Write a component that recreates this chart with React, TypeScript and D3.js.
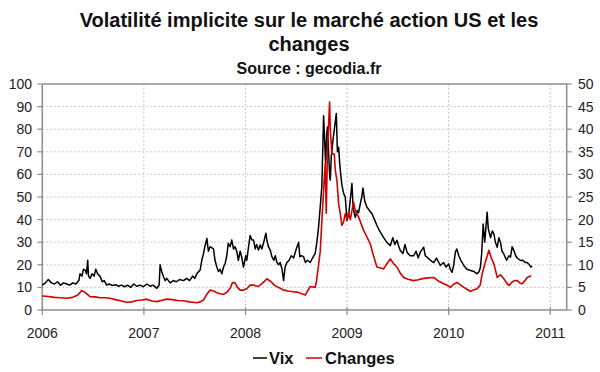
import React from "react";
import * as d3 from "d3";

// Vix (axe de gauche)
const vixYears = [
  2006.0, 2006.03, 2006.059, 2006.09, 2006.12, 2006.15, 2006.18, 2006.21, 2006.24, 2006.27,
  2006.3, 2006.33, 2006.36, 2006.371, 2006.39, 2006.405, 2006.421, 2006.435, 2006.447, 2006.455,
  2006.47, 2006.49, 2006.51, 2006.526, 2006.545, 2006.568, 2006.59, 2006.61, 2006.634, 2006.66,
  2006.69, 2006.72, 2006.75, 2006.78, 2006.81, 2006.84, 2006.87, 2006.9, 2006.93, 2006.96,
  2006.995, 2007.03, 2007.06, 2007.09, 2007.127, 2007.15, 2007.16, 2007.175, 2007.193, 2007.21,
  2007.225, 2007.258, 2007.29, 2007.32, 2007.35, 2007.39, 2007.42, 2007.45, 2007.48, 2007.5,
  2007.521, 2007.554, 2007.57, 2007.587, 2007.6, 2007.62, 2007.635, 2007.652, 2007.685, 2007.7,
  2007.718, 2007.734, 2007.75, 2007.767, 2007.784, 2007.8, 2007.816, 2007.83, 2007.849, 2007.865,
  2007.882, 2007.898, 2007.915, 2007.93, 2007.948, 2007.965, 2007.98, 2008.003, 2008.013, 2008.03,
  2008.046, 2008.063, 2008.079, 2008.096, 2008.11, 2008.128, 2008.145, 2008.161, 2008.18, 2008.201,
  2008.21, 2008.226, 2008.244, 2008.26, 2008.28, 2008.293, 2008.31, 2008.325, 2008.342, 2008.36,
  2008.375, 2008.39, 2008.408, 2008.43, 2008.45, 2008.474, 2008.5, 2008.523, 2008.535, 2008.55,
  2008.572, 2008.59, 2008.61, 2008.637, 2008.66, 2008.686, 2008.703, 2008.72, 2008.736, 2008.752,
  2008.769, 2008.789, 2008.8, 2008.808, 2008.818, 2008.828, 2008.835, 2008.845, 2008.861, 2008.875,
  2008.894, 2008.905, 2008.917, 2008.927, 2008.94, 2008.95, 2008.966, 2008.982, 2008.999, 2009.015,
  2009.031, 2009.048, 2009.06, 2009.081, 2009.1, 2009.113, 2009.13, 2009.145, 2009.156, 2009.175,
  2009.196, 2009.22, 2009.245, 2009.27, 2009.294, 2009.32, 2009.36, 2009.39, 2009.426, 2009.45,
  2009.47, 2009.491, 2009.51, 2009.524, 2009.55, 2009.57, 2009.59, 2009.62, 2009.655, 2009.68,
  2009.7, 2009.721, 2009.754, 2009.77, 2009.787, 2009.82, 2009.853, 2009.88, 2009.918, 2009.95,
  2009.975, 2010.0, 2010.017, 2010.034, 2010.05, 2010.066, 2010.08, 2010.1, 2010.12, 2010.149,
  2010.18, 2010.215, 2010.25, 2010.28, 2010.3, 2010.313, 2010.325, 2010.34, 2010.355, 2010.379,
  2010.39, 2010.412, 2010.43, 2010.445, 2010.46, 2010.478, 2010.494, 2010.51, 2010.525, 2010.543,
  2010.57, 2010.593, 2010.609, 2010.625, 2010.642, 2010.66, 2010.675, 2010.708, 2010.73, 2010.755,
  2010.773, 2010.795, 2010.81, 2010.822,
];
const vixValues = [
  11, 12, 13.5, 12, 11.5, 12.5, 11, 12, 11.5, 11,
  12, 11.5, 13, 16, 15, 18, 17.7, 16, 22, 15,
  14, 16, 15, 18, 16, 15, 12.5, 13, 11, 11.5,
  10.8, 11.2, 10.5, 11, 10.3, 11, 10, 11.5, 10.5, 11,
  10.3, 11.5, 10.5, 11, 9.6, 11, 20, 17, 14.7, 13,
  14, 12, 13, 12.5, 13.5, 13, 14, 13, 15, 14,
  16, 17.7, 22, 25, 28, 31.7, 26, 28, 27, 22,
  19, 17, 18, 16, 19, 20.6, 24, 29.5, 28, 31,
  27, 28, 25.8, 22, 26, 23, 19, 24, 22, 28,
  33, 31, 31, 27, 29, 26.5, 28.8, 27, 30, 34,
  31, 28, 26.5, 23.6, 22, 24, 21, 20, 21, 18,
  13, 19, 21, 22, 24, 23, 27, 30, 23.6, 24,
  23.6, 21, 22, 21, 23, 25, 30, 37, 45.7, 55,
  86, 65, 78, 81, 70, 60, 57.5, 68, 75, 80,
  87, 70, 72, 65, 59, 55, 51.6, 50, 39.6, 42,
  48.5, 56, 45, 41, 44, 43, 47, 50, 54, 48,
  45.5, 44, 42.6, 40, 37.4, 35, 32, 30, 28.5, 32,
  29, 30.8, 28, 26.3, 25, 29, 25.6, 24, 24, 26,
  23, 25.6, 27.8, 24, 23.4, 22, 21, 23, 19.7, 21,
  19, 20.4, 18, 16.7, 20, 25.6, 27, 24, 22, 19.7,
  18, 17.5, 17, 16, 17, 19, 25, 38, 30, 43.3,
  36, 32, 35, 33.7, 30, 27.8, 32, 30, 26, 24.8,
  22, 24, 23.4, 28, 26.3, 24, 23, 21.9, 22, 21,
  21, 20, 19, 19.5,
];

// Changes (axe de droite)
const fxYears = [
  2006.0, 2006.06, 2006.12, 2006.18, 2006.24, 2006.3, 2006.35, 2006.388, 2006.42, 2006.47,
  2006.52, 2006.57, 2006.62, 2006.667, 2006.72, 2006.78, 2006.831, 2006.88, 2006.93, 2006.98,
  2007.028, 2007.08, 2007.127, 2007.17, 2007.225, 2007.28, 2007.33, 2007.39, 2007.45, 2007.521,
  2007.554, 2007.587, 2007.62, 2007.652, 2007.685, 2007.718, 2007.75, 2007.784, 2007.816, 2007.849,
  2007.873, 2007.898, 2007.92, 2007.948, 2007.98, 2008.013, 2008.046, 2008.079, 2008.128, 2008.17,
  2008.211, 2008.25, 2008.29, 2008.342, 2008.375, 2008.42, 2008.47, 2008.52, 2008.588, 2008.637,
  2008.686, 2008.7, 2008.736, 2008.752, 2008.769, 2008.785, 2008.795, 2008.808, 2008.828, 2008.835,
  2008.851, 2008.874, 2008.884, 2008.9, 2008.917, 2008.933, 2008.949, 2008.966, 2008.982, 2008.999,
  2009.015, 2009.032, 2009.064, 2009.08, 2009.113, 2009.163, 2009.229, 2009.26, 2009.294, 2009.33,
  2009.36, 2009.4, 2009.426, 2009.46, 2009.491, 2009.52, 2009.557, 2009.6, 2009.655, 2009.7,
  2009.754, 2009.8, 2009.853, 2009.9, 2009.951, 2009.99, 2010.017, 2010.05, 2010.083, 2010.12,
  2010.149, 2010.18, 2010.215, 2010.25, 2010.28, 2010.31, 2010.33, 2010.36, 2010.396, 2010.42,
  2010.445, 2010.47, 2010.478, 2010.51, 2010.543, 2010.57, 2010.593, 2010.625, 2010.65, 2010.675,
  2010.7, 2010.724, 2010.75, 2010.773, 2010.795, 2010.813,
];
const fxValues = [
  3.1, 3.0, 2.8, 2.7, 2.6, 2.8, 3.3, 4.3, 3.9, 2.95,
  2.9, 2.7, 2.7, 2.6, 2.3, 2.0, 1.7, 1.8, 2.1, 2.2,
  2.4, 2.0, 1.85, 2.1, 2.4, 2.3, 2.1, 2.05, 1.8, 1.6,
  1.8, 2.2, 3.5, 4.4, 4.2, 3.8, 3.6, 3.5, 3.9, 4.8,
  6.1, 6.0, 5.0, 4.4, 4.4, 4.7, 5.5, 5.5, 5.2, 6.0,
  6.9, 6.3, 5.4, 4.8, 4.4, 4.2, 4.05, 3.9, 3.3, 5.2,
  5.0, 6.5, 13, 19.8, 26.5, 32.4, 21.4, 36, 46, 40,
  34.6, 34.5, 31, 28.7, 23.5, 21.4, 18.7, 19.5, 21.3, 20,
  21.7, 20, 23.9, 22, 20.6, 17.6, 14.6, 12, 9.5, 9.3,
  9.1, 10.5, 11.3, 10.2, 9.5, 8.3, 7.2, 6.8, 6.5, 6.7,
  7.0, 7.1, 7.2, 6.4, 5.8, 5.4, 5.0, 5.7, 6.1, 5.5,
  5.0, 4.6, 4.1, 4.5, 4.7, 5.5, 8.0, 10.5, 13.2, 11.5,
  10.2, 8.0, 7.2, 7.8, 6.9, 6.0, 5.4, 6.2, 6.5, 6.5,
  6.0, 5.8, 6.5, 7.2, 7.4, 7.6,
];

const leftTicks = [0, 10, 20, 30, 40, 50, 60, 70, 80, 90, 100];
const rightTicks = [0, 5, 10, 15, 20, 25, 30, 35, 40, 45, 50];
const yearTicks = [2006, 2007, 2008, 2009, 2010, 2011];

const W = 600;
const H = 372;
const font = "'Liberation Sans', Arial, sans-serif";
const axisColor = "#8c8c8c";
const gridColor = "#c8c8c8";
const red = "#d40000";

export default function App() {
  const margin = { top: 84, left: 42.3, right: 566.7, bottom: 310 };

  const x = d3.scaleLinear().domain([2006, 2011.162]).range([margin.left, margin.right]);
  const yL = d3.scaleLinear().domain([0, 100]).range([margin.bottom, margin.top]);
  const yR = d3.scaleLinear().domain([0, 50]).range([margin.bottom, margin.top]);

  const vixLine = d3
    .line<number>()
    .x((_, i) => x(vixYears[i]))
    .y((d) => yL(d));
  const fxLine = d3
    .line<number>()
    .x((_, i) => x(fxYears[i]))
    .y((d) => yR(d));

  return (
    <svg
      width={W}
      height={H}
      style={{ position: "absolute", left: 0, top: 0, background: "#fff" }}
      fontFamily={font}
    >
      <rect width={W} height={H} fill="#fff" />

      {/* titre */}
      <text x={309} y={27} textAnchor="middle" fontSize={20} fontWeight="bold" fill="#111">
        Volatilité implicite sur le marché action US et les
      </text>
      <text x={309} y={51} textAnchor="middle" fontSize={20} fontWeight="bold" fill="#111">
        changes
      </text>
      <text x={309} y={74} textAnchor="middle" fontSize={16} fontWeight="bold" fill="#111">
        Source : gecodia.fr
      </text>

      {/* grille */}
      {leftTicks
        .filter((t) => t > 0 && t < 100)
        .map((t) => (
          <line
            key={"h" + t}
            x1={margin.left}
            x2={margin.right}
            y1={yL(t)}
            y2={yL(t)}
            stroke={gridColor}
            strokeDasharray="2,2"
          />
        ))}
      {yearTicks
        .filter((t) => t > 2006)
        .map((t) => (
          <line
            key={"v" + t}
            x1={x(t)}
            x2={x(t)}
            y1={margin.top}
            y2={margin.bottom}
            stroke={gridColor}
            strokeDasharray="2,2"
          />
        ))}

      {/* cadre / axes */}
      <line x1={margin.left} x2={margin.right} y1={margin.top} y2={margin.top} stroke={axisColor} strokeWidth={1.5} />
      <line x1={margin.left} x2={margin.right} y1={margin.bottom} y2={margin.bottom} stroke={axisColor} strokeWidth={1.5} />
      <line x1={margin.left} x2={margin.left} y1={margin.top} y2={margin.bottom} stroke={axisColor} strokeWidth={1.5} />
      <line x1={margin.right} x2={margin.right} y1={margin.top} y2={margin.bottom} stroke={axisColor} strokeWidth={1.5} />

      {leftTicks.map((t) => (
        <g key={"l" + t}>
          <line x1={margin.left - 5} x2={margin.left} y1={yL(t)} y2={yL(t)} stroke={axisColor} strokeWidth={1.2} />
          <text x={32} y={yL(t) + 5} textAnchor="end" fontSize={14} fill="#222">
            {t}
          </text>
        </g>
      ))}
      {rightTicks.map((t) => (
        <g key={"r" + t}>
          <line x1={margin.right} x2={margin.right + 5} y1={yR(t)} y2={yR(t)} stroke={axisColor} strokeWidth={1.2} />
          <text x={578} y={yR(t) + 5} textAnchor="start" fontSize={14} fill="#222">
            {t}
          </text>
        </g>
      ))}
      {yearTicks.map((t) => (
        <g key={"x" + t}>
          <line x1={x(t)} x2={x(t)} y1={margin.bottom - 3} y2={margin.bottom + 5} stroke={axisColor} strokeWidth={1.2} />
          <text x={x(t)} y={338} textAnchor="middle" fontSize={14} fill="#222">
            {t}
          </text>
        </g>
      ))}

      {/* séries */}
      <path d={vixLine(vixValues) ?? ""} fill="none" stroke="#000" strokeWidth={1.5} strokeLinejoin="round" />
      <path d={fxLine(fxValues) ?? ""} fill="none" stroke={red} strokeWidth={1.6} strokeLinejoin="round" />

      {/* légende */}
      <line x1={253} x2={267} y1={358} y2={358} stroke="#000" strokeWidth={1.5} />
      <text x={269} y={363.5} fontSize={16.5} fontWeight="bold" fill="#111">
        Vix
      </text>
      <line x1={306} x2={322} y1={358} y2={358} stroke={red} strokeWidth={1.5} />
      <text x={325} y={363.5} fontSize={16.5} fontWeight="bold" fill="#111">
        Changes
      </text>
    </svg>
  );
}
